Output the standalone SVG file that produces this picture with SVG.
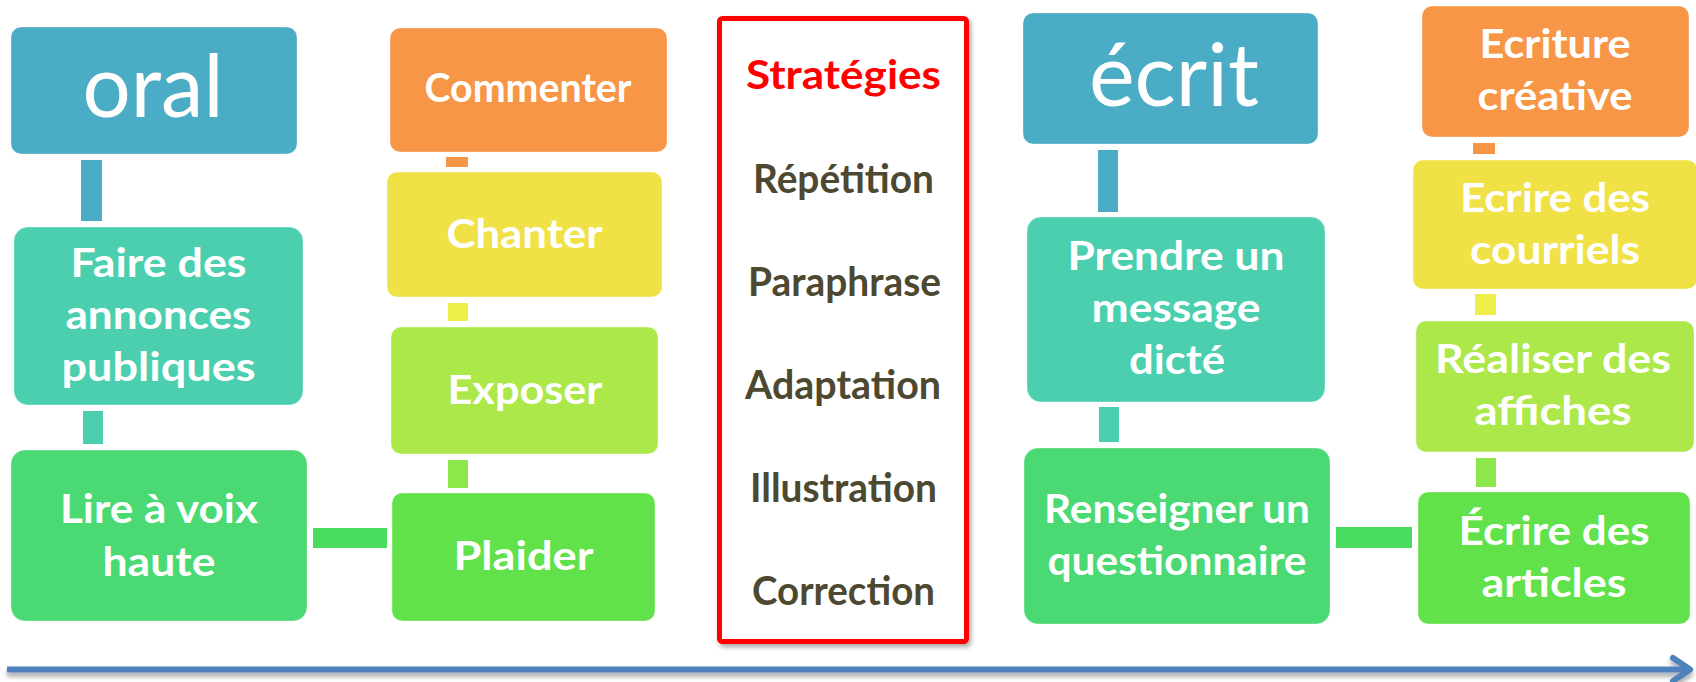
<svg xmlns="http://www.w3.org/2000/svg" width="1696" height="682" viewBox="0 0 1696 682">
<style>
.box{stroke:#ffffff;stroke-opacity:0.35;stroke-width:1}
.t{font-family:Lato,"Open Sans","Liberation Sans",sans-serif;font-weight:700;font-size:41px;fill:#ffffff;text-anchor:middle}
.big{font-family:Lato,"Open Sans","Liberation Sans",sans-serif;font-weight:400;font-size:88px;fill:#ffffff;text-anchor:middle}
.s{font-family:Lato,"Open Sans","Liberation Sans",sans-serif;font-weight:700;font-size:41px;fill:#4d4830;text-anchor:middle}
.blue{fill:#4BACC6}.teal{fill:#4BCFAF}.green{fill:#4AD973}.orange{fill:#F79646}.yellow{fill:#F0E147}.lime{fill:#ADE84A}.lgreen{fill:#61E24A}
</style>
<defs>
<filter id="sh" x="-5%" y="-5%" width="110%" height="110%">
<feDropShadow dx="2" dy="3" stdDeviation="2.5" flood-color="#000" flood-opacity="0.35"/>
</filter>
<filter id="ash" x="-2%" y="-100%" width="104%" height="400%">
<feDropShadow dx="0" dy="4" stdDeviation="2.5" flood-color="#000" flood-opacity="0.35"/>
</filter>
</defs>

<g id="connectors">
<rect x="81" y="160" width="21" height="61" class="blue"/>
<rect x="83" y="411" width="20" height="33" class="teal"/>
<rect x="313" y="528" width="74" height="20" fill="#4ADC5E"/>
<rect x="448" y="460" width="20" height="28" fill="#8EE74A"/>
<rect x="448" y="303" width="20" height="18" fill="#EEEE4A"/>
<rect x="446" y="157" width="22" height="10" class="orange"/>
<rect x="1098" y="150" width="20" height="62" class="blue"/>
<rect x="1099" y="407" width="20" height="35" class="teal"/>
<rect x="1336" y="527" width="76" height="21" fill="#4ADC5E"/>
<rect x="1476" y="458" width="20" height="29" fill="#8EE74A"/>
<rect x="1475" y="294" width="21" height="21" fill="#EEEE4A"/>
<rect x="1473" y="143" width="22" height="11" class="orange"/>
</g>

<g id="oral">
<rect x="11" y="27" width="286" height="127" rx="10" class="box blue"/>
<text x="153" y="117" class="big" textLength="141" lengthAdjust="spacingAndGlyphs">oral</text>
</g>
<g id="faire">
<rect x="14" y="227" width="289" height="178" rx="14" class="box teal"/>
<text x="158.5" y="277" class="t" textLength="176" lengthAdjust="spacingAndGlyphs">Faire des</text>
<text x="158.5" y="329" class="t" textLength="186" lengthAdjust="spacingAndGlyphs">annonces</text>
<text x="158.5" y="381" class="t" textLength="194" lengthAdjust="spacingAndGlyphs">publiques</text>
</g>
<g id="lire">
<rect x="11" y="450" width="296" height="171" rx="14" class="box green"/>
<text x="159" y="523" class="t" textLength="198" lengthAdjust="spacingAndGlyphs">Lire à voix</text>
<text x="159" y="576" class="t" textLength="113" lengthAdjust="spacingAndGlyphs">haute</text>
</g>

<g id="commenter">
<rect x="390" y="28" width="277" height="124" rx="10" class="box orange"/>
<text x="528" y="102" class="t" textLength="207" lengthAdjust="spacingAndGlyphs">Commenter</text>
</g>
<g id="chanter">
<rect x="387" y="172" width="275" height="125" rx="10" class="box yellow"/>
<text x="524.5" y="248" class="t" textLength="156" lengthAdjust="spacingAndGlyphs">Chanter</text>
</g>
<g id="exposer">
<rect x="391" y="327" width="267" height="127" rx="10" class="box lime"/>
<text x="525" y="404" class="t" textLength="155" lengthAdjust="spacingAndGlyphs">Exposer</text>
</g>
<g id="plaider">
<rect x="392" y="493" width="263" height="128" rx="10" class="box lgreen"/>
<text x="523.5" y="570" class="t" textLength="140" lengthAdjust="spacingAndGlyphs">Plaider</text>
</g>

<g id="strategies">
<rect x="719.5" y="18.5" width="247" height="623" rx="3" fill="#ffffff" stroke="#FF0000" stroke-width="5" filter="url(#sh)"/>
<text x="843.5" y="89" class="s" fill="#FF0000" style="fill:#FF0000" textLength="195" lengthAdjust="spacingAndGlyphs">Stratégies</text>
<text x="843.5" y="193" class="s" textLength="181" lengthAdjust="spacingAndGlyphs">Répétition</text>
<text x="844.5" y="296" class="s" textLength="193" lengthAdjust="spacingAndGlyphs">Paraphrase</text>
<text x="843" y="399" class="s" textLength="196" lengthAdjust="spacingAndGlyphs">Adaptation</text>
<text x="843.5" y="502" class="s" textLength="187" lengthAdjust="spacingAndGlyphs">Illustration</text>
<text x="843.5" y="605" class="s" textLength="183" lengthAdjust="spacingAndGlyphs">Correction</text>
</g>

<g id="ecrit">
<rect x="1023" y="13" width="295" height="131" rx="10" class="box blue"/>
<text x="1174" y="106" class="big" textLength="170" lengthAdjust="spacingAndGlyphs">écrit</text>
</g>
<g id="prendre">
<rect x="1027" y="217" width="298" height="185" rx="14" class="box teal"/>
<text x="1176" y="270" class="t" textLength="217" lengthAdjust="spacingAndGlyphs">Prendre un</text>
<text x="1176" y="322" class="t" textLength="169" lengthAdjust="spacingAndGlyphs">message</text>
<text x="1177" y="374" class="t" textLength="96" lengthAdjust="spacingAndGlyphs">dicté</text>
</g>
<g id="renseigner">
<rect x="1024" y="448" width="306" height="176" rx="14" class="box green"/>
<text x="1177" y="523" class="t" textLength="266" lengthAdjust="spacingAndGlyphs">Renseigner un</text>
<text x="1177" y="575" class="t" textLength="259" lengthAdjust="spacingAndGlyphs">questionnaire</text>
</g>

<g id="ecriture">
<rect x="1422" y="6" width="267" height="131" rx="10" class="box orange"/>
<text x="1555" y="58" class="t" textLength="151" lengthAdjust="spacingAndGlyphs">Ecriture</text>
<text x="1555" y="110" class="t" textLength="155" lengthAdjust="spacingAndGlyphs">créative</text>
</g>
<g id="courriels">
<rect x="1413" y="160" width="284" height="129" rx="10" class="box yellow"/>
<text x="1555" y="212" class="t" textLength="190" lengthAdjust="spacingAndGlyphs">Ecrire des</text>
<text x="1555" y="264" class="t" textLength="170" lengthAdjust="spacingAndGlyphs">courriels</text>
</g>
<g id="affiches">
<rect x="1416" y="321" width="278" height="131" rx="10" class="box lime"/>
<text x="1553" y="373" class="t" textLength="236" lengthAdjust="spacingAndGlyphs">Réaliser des</text>
<text x="1553" y="425" class="t" textLength="157" lengthAdjust="spacingAndGlyphs">affiches</text>
</g>
<g id="articles">
<rect x="1418" y="492" width="272" height="132" rx="10" class="box lgreen"/>
<text x="1554" y="545" class="t" textLength="191" lengthAdjust="spacingAndGlyphs">Écrire des</text>
<text x="1554" y="597" class="t" textLength="145" lengthAdjust="spacingAndGlyphs">articles</text>
</g>

<g id="timeline" filter="url(#ash)">
<line x1="7" y1="669.5" x2="1688" y2="669.5" stroke="#4F81BD" stroke-width="6"/>
<polyline points="1673,658 1690,669.5 1673,681" fill="none" stroke="#4F81BD" stroke-width="6" stroke-linecap="round" stroke-linejoin="round"/>
</g>
</svg>
